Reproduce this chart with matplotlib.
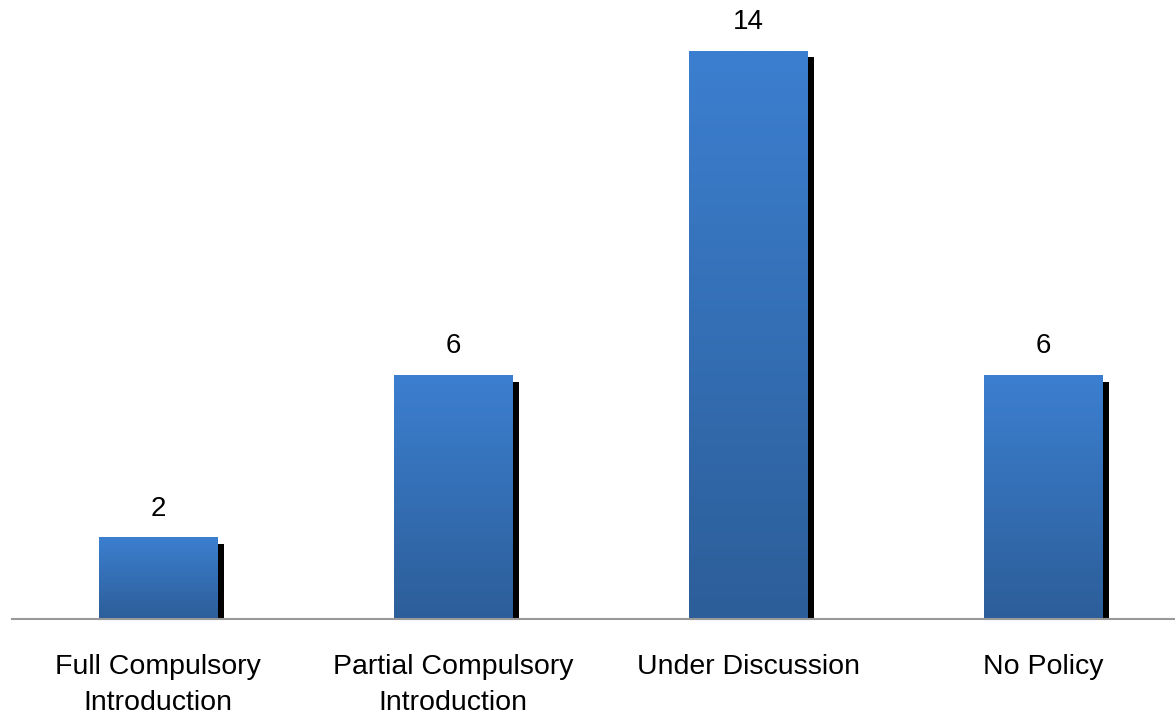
import matplotlib.pyplot as plt
import numpy as np
from matplotlib.colors import LinearSegmentedColormap

categories = ["Full Compulsory\nIntroduction", "Partial Compulsory\nIntroduction",
              "Under Discussion", "No Policy"]
values = [2, 6, 14, 6]

plt.rcParams['font.family'] = ['Liberation Sans', 'DejaVu Sans']

fig = plt.figure(figsize=(11.75, 7.16), dpi=100)
ax = fig.add_axes([12 / 1175, 97 / 716, 1163 / 1175, 619 / 716])

x = np.arange(len(values))
width = 0.4
cmap = LinearSegmentedColormap.from_list("bar", ["#2c5e99", "#3c7fd0"])
grad = np.linspace(0, 1, 256).reshape(-1, 1)

for xi, v in zip(x, values):
    # shadow
    ax.bar(xi + 0.024, v - 0.15, width=width, bottom=0, color="black", zorder=1)
    # gradient bar
    ax.imshow(grad, cmap=cmap, origin="lower", aspect="auto",
              extent=(xi - width / 2, xi + width / 2, 0, v), zorder=2)
    ax.text(xi, v + 0.4, str(v), ha="center", va="bottom", fontsize=20)

ax.set_xlim(-0.495, 3.447)
ax.set_ylim(0, 15.26)
ax.set_xticks(x)
ax.set_xticklabels(categories, fontsize=20.5, linespacing=1.5)
ax.tick_params(axis="x", length=0, pad=25)
ax.set_yticks([])
for s in ["top", "right", "left"]:
    ax.spines[s].set_visible(False)
ax.spines["bottom"].set_color("#999999")
ax.spines["bottom"].set_linewidth(1.5)
ax.spines["bottom"].set_zorder(3)

fig.savefig("out.png", dpi=100)
